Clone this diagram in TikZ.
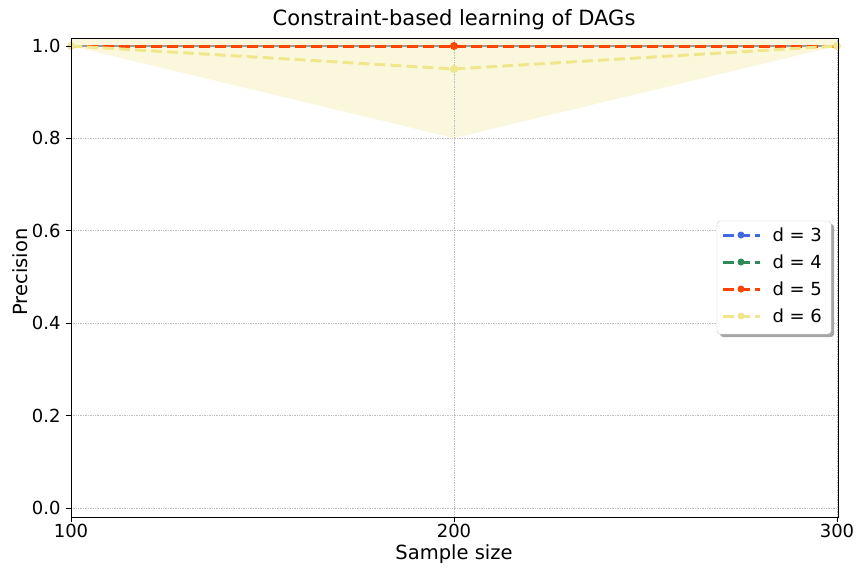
\documentclass[tikz,border=0pt]{standalone}
\usepackage{fontspec}
\setmainfont{DejaVu Sans}
\definecolor{cb}{HTML}{4169E1}
\definecolor{cg}{HTML}{2E8B57}
\definecolor{cr}{HTML}{FF4500}
\definecolor{ck}{HTML}{F0E68C}
\begin{document}
\begin{tikzpicture}[x=1pt,y=-1pt,
  grid/.style={gray!50,densely dotted,line width=0.7pt},
  ser/.style={dash pattern=on 11pt off 5pt,line width=3pt},
  mk/.style={circle,inner sep=0pt,minimum size=8pt},
  tick/.style={font=\fontsize{18}{18}\selectfont}]
\useasboundingbox (0,0) rectangle (864,576);
% fill band
\begin{scope}
\clip (71,38) rectangle (838,517);
\fill[ck,opacity=0.3] (71,46) -- (454,138) -- (837,46) -- (837,30) -- (71,30) -- cycle;
\end{scope}
% grid
\foreach \x in {71,454,837} \draw[grid] (\x,38) -- (\x,517);
\foreach \y in {46,138.4,230.8,323.2,415.6,508} \draw[grid] (71,\y) -- (838,\y);
% series
\draw[gray!80,line width=1.2pt] (71,46) -- (837,46);
\draw[ser,cr] (71,46) -- (454,46) -- (837,46);
\node[mk,fill=cr] (r2) at (454,46) {};
\draw[ser,ck] (71,46) -- (454,69) -- (837,46);
\node[mk,fill=ck] (k1) at (71,46) {};
\node[mk,fill=ck] (k2) at (454,69) {};
\node[mk,fill=ck] (k3) at (837,46) {};
% axes
\draw[line width=1pt] (71,38) rectangle (838,517);
\foreach \x/\l in {71/100,454/200,837/300} {\draw[line width=1pt] (\x,517) -- (\x,522); \node[tick,anchor=north] (xt\l) at (\x,521) {\l};}
\foreach \y/\l in {46/1.0,138.4/0.8,230.8/0.6,323.2/0.4,415.6/0.2,508/0.0} {\draw[line width=1pt] (71,\y) -- (66,\y); \node[tick,anchor=east] at (64,\y) {\l};}
\node[font=\fontsize{19.5}{19.5}\selectfont] (xl) at (454,554) {Sample size};
\node[font=\fontsize{19.5}{19.5}\selectfont,rotate=90] (yl) at (20,272) {Precision};
\node[font=\fontsize{21}{21}\selectfont] (ti) at (454,20) {Constraint-based learning of DAGs};
% legend
\fill[gray!70,rounded corners=3pt] (720,224) rectangle (834,337);
\draw[gray!40,fill=white,rounded corners=3pt] (717,221) rectangle (831,334);
\foreach \c/\t/\y in {cb/3/235,cg/4/262,cr/5/289,ck/6/316} {
  \draw[\c,line width=3pt,dash pattern=on 11pt off 5pt] (723,\y) -- (760,\y);
  \node[mk,fill=\c,minimum size=7pt] (m\t) at (741,\y) {};
  \node[anchor=west,font=\fontsize{18}{18}\selectfont] (l\t) at (769,\y) {d = \t};
}
\end{tikzpicture}
\end{document}
